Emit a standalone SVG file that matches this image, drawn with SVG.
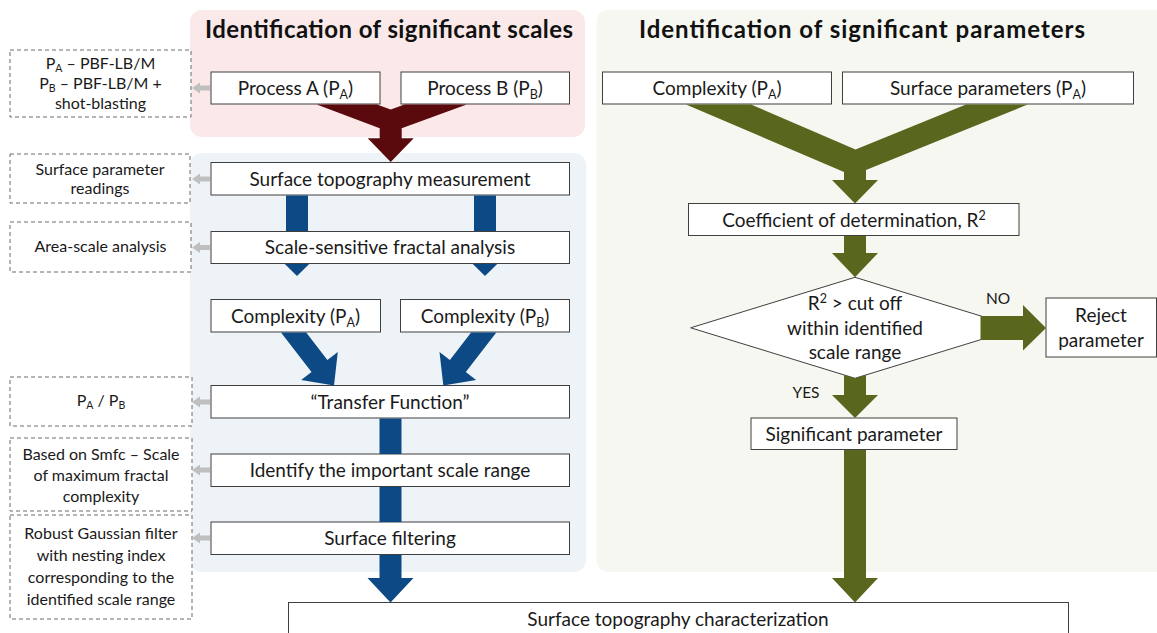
<svg xmlns="http://www.w3.org/2000/svg" width="1157" height="633" viewBox="0 0 1157 633">
  <defs>
    <style>
      .panel-scales { fill: #fbe9e9; }
      .panel-flow { fill: #eef3f8; }
      .panel-params { fill: #f6f7f0; }
      .box { fill: #ffffff; stroke: #3f3f3f; stroke-width: 1; }
      .note { fill: #ffffff; stroke: #6a6a6a; stroke-width: 1; stroke-dasharray: 4 3; }
      .lbl { font-family: Lato, "Open Sans", sans-serif; font-size: 19px; fill: #1a1a1a; text-anchor: middle; }
      .nt { font-family: Lato, "Open Sans", sans-serif; font-size: 16px; fill: #1a1a1a; text-anchor: middle; }
      .ttl { font-family: Lato, "Open Sans", sans-serif; font-size: 24px; font-weight: bold; fill: #111111; text-anchor: middle; }
      .yn { font-family: Lato, "Open Sans", sans-serif; font-size: 15.5px; fill: #1a1a1a; text-anchor: middle; }
      .red { fill: #5a0a0d; }
      .blue { fill: #0d4a85; }
      .olive { fill: #58661e; }
      .grey { fill: #bfbfbf; }
    </style>
    <!-- small grey pointer, tip at origin, pointing left -->
    <polygon id="ptr" points="0,0 8,-5.5 8,-2.5 18,-2.5 18,2.5 8,2.5 8,5.5"/>
  </defs>

  <!-- background panels -->
  <g id="panels">
    <rect class="panel-scales" x="190" y="10" width="395" height="127" rx="12"/>
    <rect class="panel-flow" x="190" y="153" width="396" height="419" rx="12"/>
    <rect class="panel-params" x="596.5" y="10" width="600" height="562" rx="12"/>
    <text class="ttl" x="389" y="38" textLength="368" lengthAdjust="spacing">Identification of significant scales</text>
    <text class="ttl" x="862" y="38" textLength="446" lengthAdjust="spacing">Identification of significant parameters</text>
  </g>

  <!-- side notes -->
  <g id="note-processes">
    <rect class="note" x="10" y="50" width="181" height="67"/>
    <text class="nt" x="100.5" y="69">P<tspan font-size="10.5" dy="3">A</tspan><tspan dy="-3"> – PBF-LB/M</tspan></text>
    <text class="nt" x="100.5" y="89">P<tspan font-size="10.5" dy="3">B</tspan><tspan dy="-3"> – PBF-LB/M +</tspan></text>
    <text class="nt" x="100.5" y="109">shot-blasting</text>
  </g>
  <g id="note-readings">
    <rect class="note" x="10" y="154" width="180" height="49"/>
    <text class="nt" x="100" y="175">Surface parameter</text>
    <text class="nt" x="100" y="194">readings</text>
  </g>
  <g id="note-areascale">
    <rect class="note" x="10" y="222" width="181" height="50"/>
    <text class="nt" x="100.5" y="252">Area-scale analysis</text>
  </g>
  <g id="note-ratio">
    <rect class="note" x="10" y="377" width="182" height="49"/>
    <text class="nt" x="101" y="406">P<tspan font-size="10.5" dy="3">A</tspan><tspan dy="-3"> / P</tspan><tspan font-size="10.5" dy="3">B</tspan></text>
  </g>
  <g id="note-smfc">
    <rect class="note" x="10" y="438" width="182" height="73"/>
    <text class="nt" x="101" y="460">Based on Smfc – Scale</text>
    <text class="nt" x="101" y="481">of maximum fractal</text>
    <text class="nt" x="101" y="502">complexity</text>
  </g>
  <g id="note-filter">
    <rect class="note" x="10" y="515" width="182" height="104"/>
    <text class="nt" x="101" y="539">Robust Gaussian filter</text>
    <text class="nt" x="101" y="561">with nesting index</text>
    <text class="nt" x="101" y="583">corresponding to the</text>
    <text class="nt" x="101" y="605">identified scale range</text>
  </g>

  <!-- scale identification chain -->
  <g id="process-a">
    <rect class="box" x="211" y="72" width="169" height="32"/>
    <text class="lbl" x="295.5" y="94.5">Process A (P<tspan font-size="12.5" dy="4">A</tspan><tspan dy="-4">)</tspan></text>
  </g>
  <g id="process-b">
    <rect class="box" x="401" y="72" width="168.5" height="32"/>
    <text class="lbl" x="485" y="94.5">Process B (P<tspan font-size="12.5" dy="4">B</tspan><tspan dy="-4">)</tspan></text>
  </g>
  <g id="measurement">
    <rect class="box" x="211" y="162.5" width="358.5" height="32.5"/>
    <text class="lbl" x="390" y="185.5">Surface topography measurement</text>
  </g>
  <g id="fractal-analysis">
    <rect class="box" x="211" y="231.5" width="358.5" height="32"/>
    <text class="lbl" x="390" y="254">Scale-sensitive fractal analysis</text>
  </g>
  <g id="complexity-a">
    <rect class="box" x="211" y="299.5" width="169.5" height="32.5"/>
    <text class="lbl" x="295.5" y="322.5">Complexity (P<tspan font-size="12.5" dy="4">A</tspan><tspan dy="-4">)</tspan></text>
  </g>
  <g id="complexity-b">
    <rect class="box" x="400.5" y="299.5" width="169" height="32.5"/>
    <text class="lbl" x="485" y="322.5">Complexity (P<tspan font-size="12.5" dy="4">B</tspan><tspan dy="-4">)</tspan></text>
  </g>
  <g id="transfer-function">
    <rect class="box" x="211" y="385.5" width="358.5" height="32.5"/>
    <text class="lbl" x="390" y="408.5">“Transfer Function”</text>
  </g>
  <g id="scale-range">
    <rect class="box" x="211" y="454" width="358.5" height="32.5"/>
    <text class="lbl" x="390" y="477">Identify the important scale range</text>
  </g>
  <g id="filtering">
    <rect class="box" x="211" y="522" width="358.5" height="32.5"/>
    <text class="lbl" x="390" y="545">Surface filtering</text>
  </g>

  <!-- parameter identification chain -->
  <g id="param-complexity">
    <rect class="box" x="602.5" y="72" width="229" height="32"/>
    <text class="lbl" x="717" y="94.5">Complexity (P<tspan font-size="12.5" dy="4">A</tspan><tspan dy="-4">)</tspan></text>
  </g>
  <g id="param-surface">
    <rect class="box" x="842.5" y="72" width="291" height="32"/>
    <text class="lbl" x="988" y="94.5">Surface parameters (P<tspan font-size="12.5" dy="4">A</tspan><tspan dy="-4">)</tspan></text>
  </g>
  <g id="determination">
    <rect class="box" x="688.5" y="203.5" width="330.5" height="32"/>
    <text class="lbl" x="854" y="226.5">Coefficient of determination, R<tspan font-size="12.5" dy="-7">2</tspan></text>
  </g>
  <g id="cutoff-decision">
    <polygon class="box" points="855,277.3 1019.3,327.8 855,378.3 690.7,327.8"/>
    <text class="lbl" x="855" y="310">R<tspan font-size="12.5" dy="-7">2</tspan><tspan dy="7"> &gt; cut off</tspan></text>
    <text class="lbl" x="855" y="334.5">within identified</text>
    <text class="lbl" x="855" y="359">scale range</text>
  </g>
  <g id="reject">
    <rect class="box" x="1046" y="298" width="110.5" height="59"/>
    <text class="lbl" x="1101" y="322">Reject</text>
    <text class="lbl" x="1101" y="347">parameter</text>
  </g>
  <g id="significant">
    <rect class="box" x="751" y="418" width="206" height="31.5"/>
    <text class="lbl" x="854" y="440.5">Significant parameter</text>
  </g>

  <g id="characterization">
    <rect class="box" x="288.5" y="602.5" width="780" height="45"/>
    <text class="lbl" x="678" y="625.5">Surface topography characterization</text>
  </g>

  <!-- connectors -->
  <g id="connectors">
    <!-- pointers to the side notes -->
    <use href="#ptr" class="grey" x="192" y="88"/>
    <use href="#ptr" class="grey" x="192" y="179"/>
    <use href="#ptr" class="grey" x="192" y="247.5"/>
    <use href="#ptr" class="grey" x="192" y="402"/>
    <use href="#ptr" class="grey" x="192" y="470"/>
    <use href="#ptr" class="grey" x="192" y="538"/>

    <!-- processes merge into the measurement -->
    <polygon class="red" points="316.7,104.5 377,104.5 390.7,109.5 404.5,104.5 466.7,104.5 401.7,128.3 401.7,138.3 413.7,138.3 390.7,161.9 367.7,138.3 379.7,138.3 379.7,128.3"/>

    <!-- measurement to fractal analysis to complexities -->
    <rect class="blue" x="286" y="195.5" width="22" height="35.5"/>
    <rect class="blue" x="474" y="195.5" width="22" height="35.5"/>
    <polygon class="blue" points="284.8,264 309.2,264 297,276"/>
    <polygon class="blue" points="472.8,264 497.2,264 485,276"/>

    <!-- complexities into the transfer function -->
    <polygon class="blue" points="281,332.5 306.2,332.5 327.4,359.9 337.8,352 334,385.5 301.2,379.9 311.5,372"/>
    <polygon class="blue" points="496.3,332.5 471.1,332.5 449.9,359.9 439.5,352 443.3,385.5 476.1,379.9 465.8,372"/>

    <!-- transfer function down to characterization -->
    <rect class="blue" x="379.5" y="418.5" width="22" height="35.5"/>
    <rect class="blue" x="379.5" y="487" width="22" height="35"/>
    <polygon class="blue" points="379.5,555 401.5,555 401.5,578 413.5,578 390.5,602.5 367.5,578 379.5,578"/>

    <!-- parameter inputs merge into determination -->
    <polygon class="olive" points="686,104.5 751,104.5 855.5,149.5 966,104.5 1027.6,104.5 866,170 866,180 878,180 855,203.5 832,180 844,180 844,172"/>

    <!-- determination to decision -->
    <polygon class="olive" points="844,236 866,236 866,253 878,253 855,277.3 832,253 844,253"/>

    <!-- NO branch -->
    <polygon class="olive" points="980.5,316 1023,316 1023,305 1046,328 1023,350.5 1023,340 980.5,340"/>
    <text class="yn" x="998" y="304">NO</text>

    <!-- YES branch -->
    <polygon class="olive" points="844,374.9 855,378.3 866,374.9 866,395 878,395 855,418 832,395 844,395"/>
    <text class="yn" x="806" y="398">YES</text>

    <!-- significant parameter down to characterization -->
    <polygon class="olive" points="844,450 866,450 866,578 878,578 855,602.5 832,578 844,578"/>
  </g>
</svg>
